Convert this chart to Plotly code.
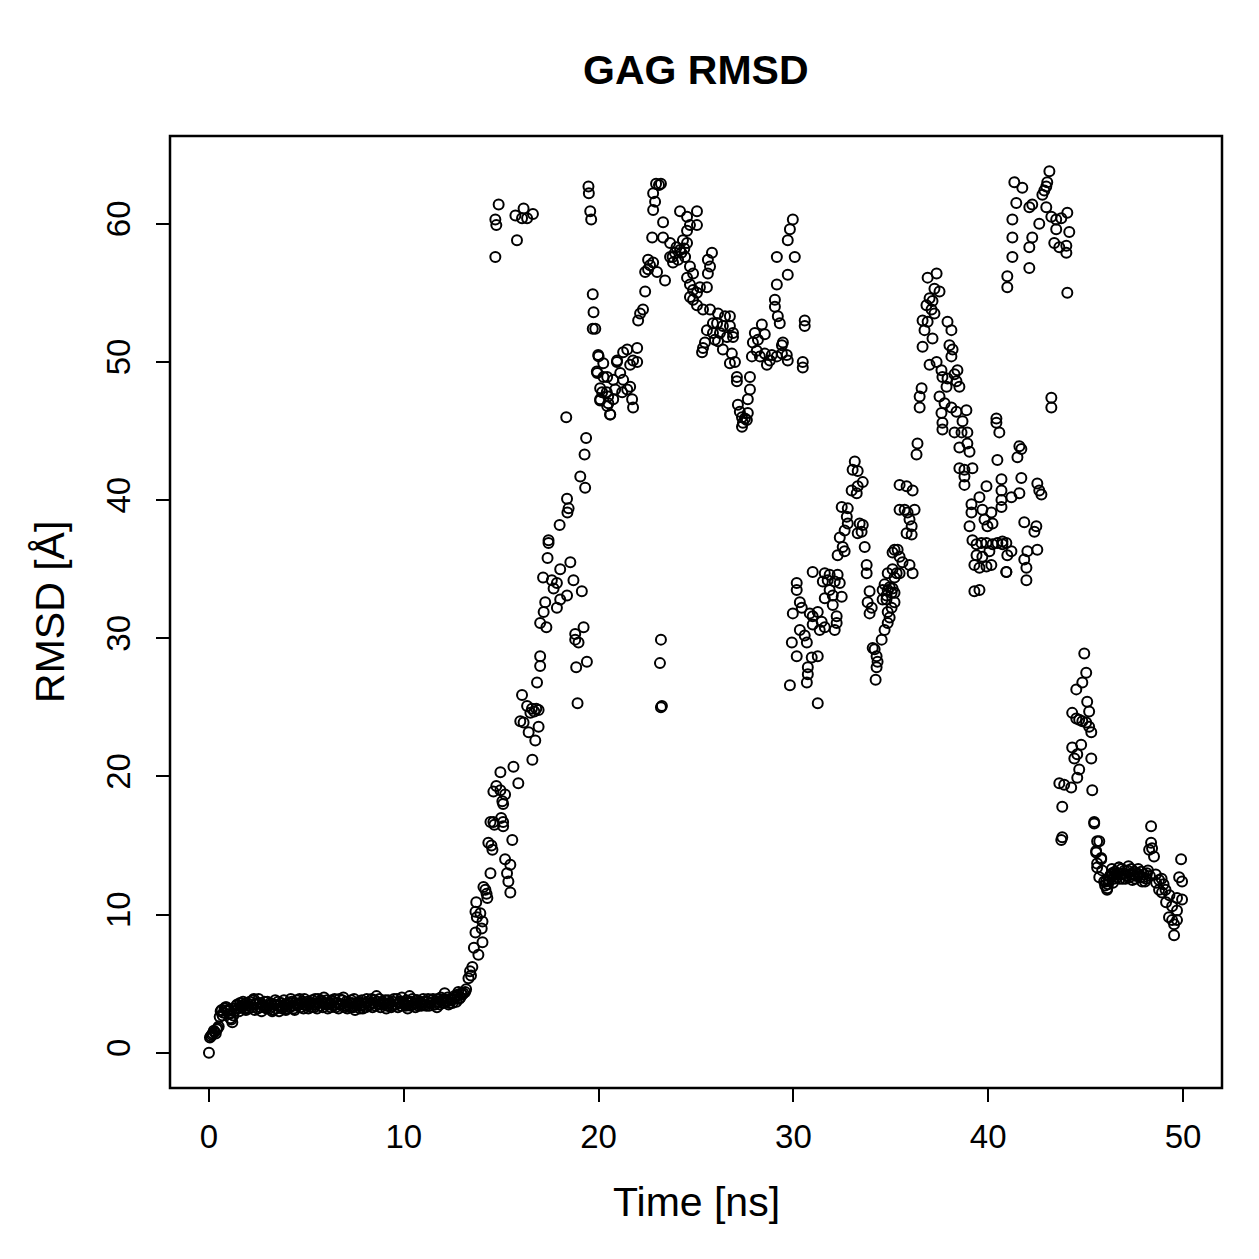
import plotly.graph_objects as go

# ---------------- data (time in ns, RMSD in Angstrom) ----------------
stable_t0 = 0.0
stable_dt = 0.1
rmsd_stable = [
    0.0, 1.2, 1.4, 1.5, 1.7, 1.9, 3.0, 2.7, 3.2, 3.3,
    3.1, 2.5, 2.2, 3.0, 3.4, 3.2, 3.6, 3.3, 3.5, 3.1,
    3.4, 3.7, 3.3, 3.9, 3.5, 3.2, 3.6, 3.0, 3.4, 3.3,
    3.7, 3.2, 3.5, 3.1, 3.8, 3.4, 3.0, 3.6, 3.3, 3.5,
    3.2, 3.6, 3.9, 3.4, 3.1, 3.8, 3.5, 3.3, 3.7, 3.9,
    3.4, 3.2, 3.6, 3.8, 3.3, 3.5, 3.9, 3.4, 3.7, 4.0,
    3.5, 3.2, 3.6, 3.8, 3.4, 3.3, 3.6, 3.9, 3.5, 4.0,
    3.4, 3.2, 3.6, 3.8, 3.3, 3.1, 3.5, 3.7, 3.4, 3.2,
    3.6, 3.9, 3.4, 3.6, 3.3, 3.8, 4.1, 3.5, 3.3, 3.7,
    3.5, 3.2, 3.8, 3.6, 3.4, 3.9, 3.5, 3.3, 3.7, 4.0,
    3.6, 3.4, 3.2, 4.1, 3.7, 3.5, 3.3, 3.8, 3.6, 3.4,
    3.9, 3.5, 3.7, 3.4, 3.6, 3.9, 3.5, 3.3, 3.7, 4.0,
    3.6, 4.3, 3.8, 3.5, 3.9, 3.6, 4.1, 3.7, 4.4, 4.0,
    4.2,
]
# interleaved samples at t = 0.05, 0.15, ..., 12.95
stable_b_t0 = 0.05
rmsd_stable_b = [
    1.1, 1.3, 1.6, 1.4, 1.8, 2.6, 3.1, 2.9, 3.3, 3.0,
    2.8, 2.4, 2.7, 3.2, 3.5, 3.0, 3.4, 3.7, 3.2, 3.6,
    3.2, 3.5, 3.8, 3.1, 3.6, 3.9, 3.3, 3.5, 3.7, 3.2,
    3.4, 3.6, 3.0, 3.5, 3.2, 3.7, 3.4, 3.2, 3.8, 3.1,
    3.5, 3.3, 3.7, 3.2, 3.6, 3.4, 3.9, 3.6, 3.2, 3.5,
    3.7, 3.5, 3.3, 3.6, 3.9, 3.2, 3.6, 3.8, 3.3, 3.6,
    3.8, 3.5, 3.3, 3.7, 3.9, 3.6, 3.2, 3.5, 3.8, 3.3,
    3.7, 3.5, 3.3, 3.6, 3.9, 3.4, 3.6, 3.2, 3.8, 3.5,
    3.3, 3.7, 3.5, 3.9, 3.6, 3.4, 3.7, 3.9, 3.5, 3.6,
    3.8, 3.4, 3.6, 3.3, 3.7, 3.5, 3.9, 3.6, 3.4, 3.7,
    3.5, 3.8, 3.6, 3.4, 3.9, 3.6, 3.8, 3.4, 3.7, 3.5,
    3.7, 3.4, 3.9, 3.6, 3.8, 3.5, 3.7, 3.9, 3.5, 3.8,
    3.9, 3.7, 4.0, 3.6, 3.8, 3.9, 4.0, 4.2, 3.9, 4.3,
]

t_rise = [13.06, 13.15, 13.2, 13.32, 13.4, 13.45, 13.52, 13.6, 13.68, 13.68,
          13.72, 13.75, 13.83, 13.93, 14.0, 14.04, 14.04, 14.09, 14.19, 14.25,
          14.29, 14.34, 14.45, 14.45, 14.5, 14.55, 14.6, 14.6, 14.65, 14.75,
          14.96, 14.96, 15.0, 15.06, 15.1, 15.1, 15.1, 15.2, 15.2, 15.3,
          15.37, 15.47, 15.47, 15.57, 15.63, 15.88, 16.5, 16.6, 16.7, 16.8]
rmsd_rise = [4.3, 4.4, 4.6, 5.4, 5.9, 5.6, 6.2, 7.6, 8.7, 10.2,
             10.9, 9.8, 7.1, 10.1, 9.0, 8.0, 9.5, 12.0, 11.8, 11.5,
             11.2, 15.2, 16.7, 13.0, 15.0, 14.7, 18.9, 16.7, 16.5, 19.3,
             20.3, 19.0, 17.0, 18.2, 18.0, 16.7, 16.4, 18.7, 14.0, 13.0,
             12.4, 13.6, 11.6, 15.4, 20.7, 19.5, 24.6, 21.2, 24.7, 24.9]

t_climb = [15.98, 16.07, 16.15, 16.33, 16.41, 16.58, 16.75, 16.84, 16.92, 16.92,
           17.0, 17.0, 17.0, 17.15, 17.18, 17.26, 17.32, 17.38, 17.43, 17.43,
           17.6, 17.69, 17.86, 17.86, 18.0, 18.03, 18.03, 18.34, 18.38, 18.38,
           18.4, 18.46, 18.55, 18.71, 18.8, 18.8, 18.85, 18.92, 18.97, 19.06,
           19.14, 19.23, 19.28, 19.31, 19.36, 19.4]
rmsd_climb = [24.0, 25.9, 23.9, 25.1, 23.2, 24.9, 22.6, 26.8, 24.8, 23.6,
              31.1, 28.7, 28.0, 34.4, 31.9, 32.6, 30.8, 35.8, 37.1, 36.9,
              34.2, 33.6, 34.0, 32.2, 38.2, 35.0, 32.8, 46.0, 40.1, 33.1,
              39.1, 39.4, 35.5, 34.2, 30.3, 29.9, 27.9, 25.3, 29.7, 41.7,
              33.4, 30.8, 43.3, 40.9, 44.5, 28.3]

t_top_a = [14.7, 14.75, 14.7, 14.87, 15.73, 15.81, 16.07, 16.15, 16.33, 16.63]
rmsd_top_a = [60.3, 59.9, 57.6, 61.4, 60.6, 58.8, 60.4, 61.1, 60.4, 60.7]

t_jump = [19.48, 19.5, 19.57, 19.62, 19.7, 19.74, 19.7, 19.83, 20.0, 19.91,
          20.25, 20.08, 20.42, 20.08, 20.5, 20.6, 20.94]
rmsd_jump = [62.7, 62.2, 60.9, 60.3, 54.9, 53.6, 52.4, 52.4, 50.4, 49.3,
             48.9, 48.1, 47.8, 47.2, 47.0, 46.2, 50.0]

t_c20 = [19.98, 20.24, 19.93, 20.95, 21.26, 21.47, 21.98, 21.77, 21.62, 21.98,
         20.44, 20.75, 21.11, 21.26, 20.18, 20.49, 20.85, 21.21, 21.62, 21.72,
         20.08, 20.44, 20.59, 21.77, 20.75, 21.47]
rmsd_c20 = [50.5, 49.9, 49.2, 50.1, 50.7, 50.9, 51.0, 50.1, 49.8, 50.0,
            48.9, 48.7, 49.2, 48.7, 47.8, 47.5, 48.0, 47.8, 48.2, 47.3,
            47.3, 46.8, 46.2, 46.7, 47.3, 48.0]

t_c22 = [22.13, 22.28, 22.03, 22.39, 22.54, 22.64, 22.54, 22.8, 22.39, 23.0,
         23.41, 22.75, 23.31, 23.31, 22.8, 22.9, 22.8, 22.95, 23.1, 23.2]
rmsd_c22 = [53.5, 53.8, 53.0, 55.1, 56.7, 57.0, 57.4, 57.2, 56.5, 56.5,
            55.9, 59.0, 59.0, 60.1, 61.0, 61.6, 62.2, 62.9, 62.8, 62.9]

t_low23 = [23.2, 23.15, 23.2, 23.25]
rmsd_low23 = [29.9, 28.2, 25.0, 25.1]

t_c24 = [23.67, 23.92, 24.18, 24.08, 24.44, 23.82, 23.67, 24.33, 24.54, 24.18,
         24.54, 25.05, 24.69, 25.05, 24.54, 24.0, 24.25, 24.4, 23.8]
rmsd_c24 = [57.6, 57.9, 58.1, 57.4, 57.6, 57.2, 58.6, 58.8, 58.6, 60.9,
            60.5, 60.9, 59.9, 59.9, 59.5, 58.3, 57.9, 58.2, 57.6]

t_c25 = [24.69, 24.85, 24.54, 24.69, 24.85, 24.69, 25.05, 24.85, 25.2, 25.56,
         25.61, 25.82, 25.72, 25.61, 25.05, 25.36, 25.72, 25.87, 25.56, 25.87,
         25.46, 25.36, 25.31, 26.13, 26.49, 26.74, 26.08, 26.38, 26.74, 26.9,
         26.23, 25.97, 26.59, 26.9, 26.13, 26.38, 26.84, 26.74, 27.0, 27.1,
         27.1, 27.77, 27.77, 27.66, 27.15, 27.25, 27.36, 27.51, 27.41, 27.66,
         27.61, 27.36]
rmsd_c25 = [56.9, 56.4, 56.1, 55.6, 55.2, 54.7, 55.0, 54.5, 55.4, 55.4,
            57.4, 57.9, 56.9, 56.4, 54.1, 53.8, 53.8, 52.8, 52.3, 52.1,
            51.4, 51.0, 50.7, 53.5, 53.3, 53.3, 52.8, 52.6, 52.6, 52.1,
            52.1, 51.6, 51.8, 51.8, 51.5, 50.9, 50.6, 49.9, 50.0, 48.9,
            48.6, 48.9, 48.0, 47.3, 46.9, 46.4, 46.0, 45.9, 45.6, 46.3,
            45.8, 45.3]

t_c28 = [28.02, 28.38, 27.92, 28.18, 28.53, 28.12, 27.87, 28.28, 28.53, 28.79,
         28.64, 28.89, 29.15, 29.41, 29.46, 29.66, 29.71, 29.41, 29.15, 29.71,
         29.15, 30.07, 29.05, 29.05, 29.2, 29.3, 29.71, 29.82, 29.97, 30.58,
         30.58, 30.48, 30.48]
rmsd_c28 = [52.1, 52.7, 51.4, 51.6, 52.0, 50.8, 50.4, 50.4, 50.6, 50.1,
            49.8, 50.5, 50.4, 51.2, 51.4, 50.5, 50.1, 50.6, 57.6, 56.3,
            55.6, 57.6, 54.0, 54.5, 53.3, 52.8, 58.8, 59.6, 60.3, 53.0,
            52.6, 50.0, 49.6]

t_c30 = [33.15, 33.04, 33.3, 33.56, 32.99, 33.25, 33.3, 32.48, 32.79, 32.74,
         32.79, 32.38, 32.63, 32.53, 32.63, 32.27, 33.4, 33.56, 33.5, 33.3, 33.66,
         30.99, 31.61, 31.86, 31.51, 31.76, 32.12, 32.27, 32.38, 31.86, 32.02,
         31.61, 32.48, 32.02, 32.22, 32.22, 32.12,
         30.17, 30.17, 30.33, 30.43, 29.97, 30.99, 30.84, 31.25, 30.99, 31.45,
         31.35, 31.61, 30.33, 30.58, 29.92, 30.69, 30.17, 30.94, 31.25, 30.74,
         30.74, 30.69, 29.82, 31.25,
         33.76, 33.76, 33.91, 33.81, 34.02, 33.91, 34.17, 34.27, 34.32, 34.27,
         34.22, 34.07, 34.53, 34.68, 34.84, 34.94, 34.58, 34.78, 34.84, 35.09,
         34.68, 35.04, 35.19, 35.09, 35.35, 35.3, 35.19, 35.04, 34.84, 35.45, 35.45]
rmsd_c30 = [42.8, 42.2, 42.1, 41.3, 40.7, 40.5, 41.0, 39.5, 39.4, 38.8,
            38.3, 37.3, 37.8, 36.6, 36.3, 36.0, 38.3, 38.2, 37.7, 37.6, 36.6,
            34.8, 34.7, 34.6, 34.1, 34.2, 34.1, 34.6, 34.0, 33.5, 33.1,
            32.9, 33.0, 32.4, 31.6, 31.1, 30.6,
            34.0, 33.5, 32.6, 32.2, 31.8, 31.6, 31.8, 31.9, 31.0, 31.2,
            30.6, 30.8, 30.6, 30.2, 29.7, 29.7, 28.7, 28.6, 28.7, 27.9,
            27.4, 26.8, 26.6, 25.3,
            35.3, 34.7, 33.4, 32.6, 32.2, 31.8, 29.2, 28.7, 28.3, 27.9,
            27.0, 29.3, 29.9, 30.6, 31.1, 31.5, 32.8, 33.1, 33.5, 33.6,
            33.9, 33.3, 34.4, 36.2, 36.4, 34.7, 32.6, 32.2, 31.9, 41.1, 39.3]

t_c36 = [36.89, 37.35, 37.24, 37.5, 36.99, 37.14, 36.83, 37.09, 37.24, 36.63,
         36.89, 36.73, 37.14, 36.63, 37.91, 38.11, 38.01, 38.17, 38.11, 36.99,
         37.35, 37.6, 37.65, 37.91, 38.27, 38.42, 38.37, 38.52, 37.86, 37.5,
         37.76, 38.11, 36.58, 36.48, 36.48, 37.6, 37.65, 37.65]
rmsd_c36 = [56.1, 56.4, 55.3, 55.1, 54.6, 54.4, 54.1, 53.8, 53.5, 53.0,
            52.9, 52.3, 51.7, 51.1, 52.9, 52.3, 51.2, 50.9, 50.4, 49.8,
            50.0, 49.4, 48.9, 48.8, 49.1, 49.4, 48.6, 48.2, 48.2, 47.5,
            47.0, 46.7, 48.1, 47.5, 46.7, 46.3, 45.6, 45.1]

t_c38 = [38.37, 38.88, 38.68, 38.27, 38.63, 38.93, 38.52, 38.93, 39.04, 38.52,
         38.78, 39.19, 38.78, 38.78, 36.37, 36.32]
rmsd_c38 = [46.4, 46.5, 45.7, 44.9, 44.9, 44.9, 43.8, 44.1, 43.5, 42.3,
            42.2, 42.3, 41.7, 41.1, 44.1, 43.3]

t_c40 = [40.42, 40.42, 40.57, 40.47, 40.68, 40.68, 39.91, 39.55, 39.14, 39.14,
         39.04, 39.19, 39.7, 40.16, 39.81, 40.22, 39.96, 40.68, 39.4, 39.65,
         39.91, 40.22, 40.47, 40.73, 40.93, 40.06, 39.7, 39.4, 39.29, 39.55,
         39.91, 40.16, 40.93, 39.29, 39.55]
rmsd_c40 = [45.9, 45.6, 44.9, 42.9, 41.5, 40.7, 41.0, 40.2, 39.7, 39.1,
            38.1, 37.1, 39.3, 39.1, 38.6, 38.3, 38.1, 40.0, 36.8, 36.9,
            36.9, 36.8, 36.9, 37.0, 36.9, 36.3, 35.9, 36.0, 35.3, 35.1,
            35.2, 35.3, 34.8, 33.4, 33.5]

t_c35 = [35.81, 36.12, 35.71, 35.86, 36.22, 35.96, 36.07, 35.81, 36.07, 35.19,
         35.45, 35.6, 35.96, 36.12, 34.84, 35.09, 35.45, 34.58, 34.94, 35.19, 34.78]
rmsd_c35 = [41.0, 40.7, 39.3, 39.1, 39.3, 38.6, 38.1, 37.6, 37.5, 36.4,
            35.9, 35.5, 35.3, 34.7, 34.7, 35.0, 34.7, 33.5, 33.7, 33.3, 32.8]

t_top_b = [43.14, 43.03, 42.98, 42.88, 42.78, 41.34, 41.75, 41.44, 42.11, 42.26,
           41.24, 42.62, 42.98, 43.24, 43.49, 43.75, 44.06, 43.49, 44.16, 43.39,
           43.65, 44.01, 44.01, 41.24, 42.26, 42.11, 41.24, 42.11, 40.98, 40.98, 44.06]
rmsd_top_b = [63.8, 63.0, 62.7, 62.4, 62.1, 63.0, 62.6, 61.5, 61.2, 61.4,
              60.3, 60.0, 61.2, 60.5, 60.3, 60.4, 60.8, 59.6, 59.4, 58.6,
              58.3, 58.4, 57.9, 59.0, 59.0, 58.3, 57.6, 56.8, 56.2, 55.4, 55.0]

t_mid43 = [43.24, 43.24]
rmsd_mid43 = [47.4, 46.7]

t_low41 = [41.6, 41.7, 41.5, 41.7, 42.52, 42.62, 42.73, 41.19, 41.6, 41.85,
           42.47, 42.37, 41.19, 42.52, 42.01, 41.85, 41.96, 40.93, 41.96, 40.73,
           40.98, 40.68]
rmsd_low41 = [43.9, 43.7, 43.1, 41.6, 41.2, 40.7, 40.4, 40.2, 40.5, 38.4,
              38.1, 37.7, 36.3, 36.4, 36.3, 35.7, 35.1, 34.8, 34.2, 36.8,
              36.0, 39.5]

t_fall44 = [44.93, 45.03, 44.83, 44.52, 45.08, 45.18, 44.31, 44.52, 44.67, 44.83,
            45.03, 45.18, 45.29, 44.31, 44.77, 44.57, 44.42, 45.29, 44.67, 44.57,
            43.65, 43.9, 44.26, 45.34, 43.8, 45.44, 43.8, 43.75, 45.59, 45.54,
            45.8, 45.59, 45.85]
rmsd_fall44 = [28.9, 27.5, 26.8, 26.3, 25.4, 24.7, 24.6, 24.2, 24.1, 24.0,
               23.9, 23.6, 23.2, 22.1, 22.3, 21.6, 21.3, 21.3, 20.5, 19.9,
               19.5, 19.4, 19.2, 19.0, 17.8, 16.7, 15.6, 15.4, 15.3, 14.5,
               14.0, 13.7, 13.2]

t_tail = [45.44, 45.7, 45.54, 45.8, 45.59, 45.7, 45.95, 46.11, 46.36, 46.72]
rmsd_tail = [16.6, 15.3, 14.6, 14.1, 13.4, 12.7, 12.4, 11.9, 13.0, 13.4]

t_band = [46.0, 46.1, 46.2, 46.3, 46.4, 46.5, 46.6, 46.7, 46.8, 46.9, 47.0, 47.1,
          47.2, 47.3, 47.4, 47.5, 47.6, 47.7, 47.8, 47.9, 48.0, 48.1, 48.2, 48.3,
          46.05, 46.15, 46.25, 46.35, 46.45, 46.55, 46.65, 46.75, 46.85, 46.95, 47.05,
          47.15, 47.25, 47.35, 47.45, 47.55, 47.65, 47.75, 47.85, 47.95, 48.05, 48.15]
rmsd_band = [12.1, 11.8, 12.5, 12.9, 12.3, 13.1, 12.7, 13.4, 12.9, 12.6, 13.2, 12.8,
             13.5, 12.9, 12.5, 13.1, 12.8, 13.3, 12.7, 12.4, 12.9, 12.6, 13.2, 12.8,
             12.4, 12.2, 12.8, 13.3, 12.6, 12.9, 13.0, 12.6, 13.3, 13.0, 12.6,
             13.2, 12.7, 13.3, 12.9, 12.6, 13.0, 12.9, 13.1, 12.7, 12.4, 13.0]

t_end = [48.36, 48.36, 48.41, 48.51, 48.26, 48.62, 48.77, 48.92, 49.13, 49.28,
         49.44, 49.44, 49.54, 49.54, 49.69, 49.69, 49.69, 49.95, 49.8, 49.95,
         49.9, 48.6, 48.77, 49.0, 49.1, 48.9, 49.3]
rmsd_end = [16.4, 15.2, 14.8, 14.2, 14.7, 12.3, 11.8, 11.6, 10.9, 9.8,
            10.6, 9.6, 9.3, 8.5, 9.6, 10.3, 11.2, 11.1, 12.7, 12.4,
            14.0, 12.9, 12.5, 12.2, 11.8, 12.6, 11.4]

x_ticks = [0, 10, 20, 30, 40, 50]
y_ticks = [0, 10, 20, 30, 40, 50, 60]

# ---------------- assemble ----------------
t_stable = [round(stable_t0 + i * stable_dt, 2) for i in range(len(rmsd_stable))]
t_stable_b = [round(stable_b_t0 + i * stable_dt, 2) for i in range(len(rmsd_stable_b))]
segments = [
    (t_stable, rmsd_stable), (t_stable_b, rmsd_stable_b), (t_rise, rmsd_rise),
    (t_climb, rmsd_climb), (t_top_a, rmsd_top_a), (t_jump, rmsd_jump),
    (t_c20, rmsd_c20), (t_c22, rmsd_c22), (t_low23, rmsd_low23),
    (t_c24, rmsd_c24), (t_c25, rmsd_c25), (t_c28, rmsd_c28),
    (t_c30, rmsd_c30), (t_c35, rmsd_c35), (t_c36, rmsd_c36),
    (t_c38, rmsd_c38), (t_c40, rmsd_c40), (t_top_b, rmsd_top_b),
    (t_mid43, rmsd_mid43), (t_low41, rmsd_low41), (t_fall44, rmsd_fall44),
    (t_tail, rmsd_tail), (t_band, rmsd_band), (t_end, rmsd_end),
]
time_all, rmsd_all = [], []
for ts, vs in segments:
    assert len(ts) == len(vs), (len(ts), len(vs), ts[:3])
    time_all += ts
    rmsd_all += vs

FONT = "Liberation Sans, Arial, Helvetica, sans-serif"

fig = go.Figure(
    go.Scatter(
        x=time_all, y=rmsd_all, mode="markers",
        marker=dict(symbol="circle-open", size=10, color="black",
                    line=dict(width=2, color="black")),
        hoverinfo="skip",
    )
)

axis_common = dict(
    showgrid=False, zeroline=False, showline=False,
    ticks="outside", ticklen=13, tickwidth=2, tickcolor="black",
    tickfont=dict(family=FONT, size=33, color="black"),
    tickmode="array",
)

fig.update_layout(
    width=1259, height=1259,
    margin=dict(l=170, r=37, t=136, b=171, pad=0),
    paper_bgcolor="white", plot_bgcolor="white",
    showlegend=False,
    xaxis=dict(range=[-2, 52], tickvals=x_ticks, ticktext=[str(v) for v in x_ticks],
               ticklabelstandoff=6, **axis_common),
    yaxis=dict(range=[-2.55, 66.35], tickvals=y_ticks, ticktext=[str(v) for v in y_ticks],
               tickangle=-90, ticklabelstandoff=13, **axis_common),
    shapes=[dict(type="rect", xref="paper", yref="paper", x0=0, y0=0, x1=1, y1=1,
                 line=dict(color="black", width=2.5), fillcolor="rgba(0,0,0,0)")],
    annotations=[
        dict(text="<b>GAG RMSD</b>", xref="paper", yref="paper", x=0.5, y=1.0693,
             xanchor="center", yanchor="middle", showarrow=False,
             font=dict(family=FONT, size=41, color="black")),
        dict(text="Time [ns]", xref="paper", yref="paper", x=0.5, y=-0.1197,
             xanchor="center", yanchor="middle", showarrow=False,
             font=dict(family=FONT, size=41, color="black")),
        dict(text="RMSD [Å]", xref="paper", yref="paper", x=-0.1141, y=0.5,
             xanchor="center", yanchor="middle", showarrow=False, textangle=-90,
             font=dict(family=FONT, size=41, color="black")),
    ],
)

fig.write_html("out.html")
